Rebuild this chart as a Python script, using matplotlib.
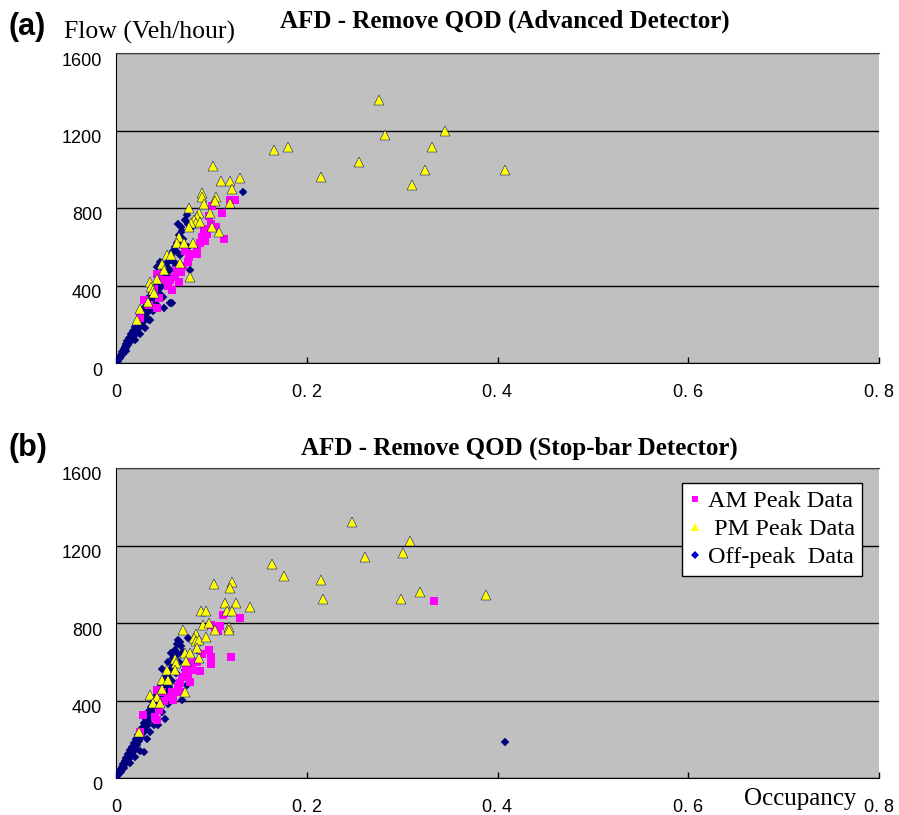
import matplotlib
matplotlib.use("Agg")
import matplotlib.pyplot as plt
from matplotlib.lines import Line2D
from matplotlib.transforms import ScaledTranslation

# ---------------- data ----------------
x_ticks = [0, 0.2, 0.4, 0.6, 0.8]
x_tick_labels = ["0", "0. 2", "0. 4", "0. 6", "0. 8"]
y_ticks = [0, 400, 800, 1200, 1600]
y_tick_labels = ["0", "400", "800", "1200", "1600"]
series_names = ["AM Peak Data", " PM Peak Data", "Off-peak  Data"]
panel_titles = ["AFD - Remove QOD (Advanced Detector)", "AFD - Remove QOD (Stop-bar Detector)"]

# Panel (a) - Advanced detector
a_am_x = [0.1248, 0.120, 0.101, 0.111, 0.098, 0.100, 0.092, 0.095, 0.090, 0.093, 0.113, 0.085, 0.080, 0.077,
          0.085, 0.076, 0.064, 0.062, 0.057, 0.066, 0.059, 0.045, 0.050, 0.043, 0.029, 0.045, 0.043, 0.025,
          0.070, 0.072, 0.088, 0.105, 0.068, 0.055, 0.040, 0.035]
a_am_y = [841, 841, 810, 776, 757, 720, 692, 666, 649, 632, 640, 598, 564, 547,
          564, 521, 478, 444, 427, 418, 376, 461, 427, 461, 325, 333, 282, 232,
          500, 580, 620, 700, 470, 400, 380, 300]
a_pm_x = [0.276, 0.282, 0.345, 0.331, 0.166, 0.180, 0.255, 0.102, 0.324, 0.408, 0.215, 0.310, 0.110, 0.120,
          0.130, 0.122, 0.0905, 0.0905, 0.105, 0.104, 0.120, 0.092, 0.077, 0.099, 0.087, 0.085, 0.082, 0.084,
          0.079, 0.077, 0.088, 0.108, 0.101, 0.066, 0.064, 0.071, 0.081, 0.053, 0.058, 0.067, 0.048, 0.050,
          0.078, 0.043, 0.036, 0.037, 0.039, 0.040, 0.034, 0.025, 0.022]
a_pm_y = [1357, 1177, 1199, 1116, 1101, 1116, 1039, 1017, 996, 996, 958, 917, 941, 941,
          953, 898, 880, 858, 858, 838, 828, 821, 798, 776, 775, 755, 740, 725,
          725, 700, 730, 678, 703, 652, 618, 618, 618, 557, 557, 518, 513, 478,
          444, 436, 420, 393, 376, 359, 316, 277, 222]
a_off_x = [0.002, 0.004, 0.005, 0.006, 0.007, 0.008, 0.009, 0.010, 0.010, 0.011, 0.012, 0.013, 0.014, 0.015,
           0.016, 0.017, 0.018, 0.019, 0.020, 0.020, 0.021, 0.022, 0.023, 0.024, 0.025, 0.025, 0.026, 0.027,
           0.028, 0.029, 0.030, 0.030, 0.031, 0.032, 0.033, 0.034, 0.035, 0.035, 0.036, 0.037, 0.038, 0.039,
           0.040, 0.040, 0.041, 0.042, 0.043, 0.044, 0.045, 0.046, 0.047, 0.048, 0.049, 0.050, 0.051, 0.052,
           0.053, 0.054, 0.055, 0.056, 0.057, 0.058, 0.059, 0.060, 0.061, 0.062, 0.063, 0.064, 0.065, 0.066,
           0.067, 0.068, 0.070, 0.072, 0.074, 0.075, 0.078, 0.080, 0.1335, 0.046, 0.043, 0.0566, 0.050, 0.036,
           0.003, 0.005, 0.007, 0.009, 0.011, 0.013, 0.015, 0.017, 0.019, 0.021, 0.023, 0.025, 0.027, 0.029,
           0.031, 0.033, 0.035, 0.038, 0.041, 0.044, 0.047, 0.052, 0.058, 0.063, 0.069, 0.076]
a_off_y = [10, 25, 40, 55, 45, 70, 85, 60, 100, 80, 115, 95, 130, 110,
           150, 125, 165, 140, 185, 120, 160, 200, 175, 215, 150, 235, 190, 250,
           210, 270, 180, 290, 240, 305, 260, 325, 220, 280, 345, 300, 360, 270,
           380, 320, 340, 400, 300, 420, 360, 440, 390, 460, 340, 480, 420, 500,
           450, 520, 400, 540, 480, 560, 310, 580, 520, 600, 500, 620, 720, 660,
           560, 700, 640, 740, 764, 600, 478, 700, 884, 523, 497, 308, 282, 222,
           20, 35, 60, 75, 95, 105, 130, 145, 155, 180, 195, 205, 230, 245,
           265, 290, 305, 330, 365, 380, 420, 470, 530, 580, 680, 720]

# Panel (b) - Stop-bar detector
b_am_x = [0.333, 0.130, 0.112, 0.109, 0.100, 0.121, 0.0975, 0.0996, 0.0996, 0.088, 0.0776, 0.073, 0.069, 0.0776,
          0.0671, 0.0584, 0.0671, 0.0426, 0.048, 0.060, 0.0287, 0.041, 0.0426, 0.025, 0.085, 0.090, 0.080,
          0.075, 0.065, 0.055, 0.050, 0.045, 0.107, 0.104]
b_am_y = [915, 827, 841, 785, 788, 626, 660, 625, 587, 550, 592, 557, 522, 496,
          488, 445, 445, 453, 445, 403, 325, 316, 299, 237, 600, 640, 560,
          520, 470, 420, 400, 350, 760, 780]
b_pm_x = [0.247, 0.3086, 0.301, 0.2607, 0.1636, 0.1758, 0.2149, 0.103, 0.122, 0.120, 0.217, 0.2985, 0.3187, 0.388,
          0.1146, 0.1258, 0.140, 0.089, 0.094, 0.116, 0.122, 0.0909, 0.098, 0.1038, 0.118, 0.118, 0.0706,
          0.084, 0.082, 0.084, 0.087, 0.094, 0.085, 0.0724, 0.078, 0.087, 0.062, 0.063, 0.073, 0.053, 0.062,
          0.048, 0.055, 0.0724, 0.0356, 0.0426, 0.0486, 0.0385, 0.046, 0.0245]
b_pm_y = [1321, 1221, 1163, 1142, 1104, 1043, 1022, 1000, 1010, 981, 924, 924, 962, 945,
          902, 902, 884, 863, 863, 863, 863, 790, 801, 764, 780, 764, 764,
          743, 721, 705, 712, 730, 669, 643, 643, 618, 612, 595, 603, 557, 557,
          506, 506, 445, 428, 419, 457, 385, 385, 239]
b_off_x = [0.001, 0.003, 0.004, 0.005, 0.006, 0.007, 0.008, 0.009, 0.010, 0.011, 0.012, 0.013, 0.014, 0.015,
           0.015, 0.016, 0.017, 0.018, 0.019, 0.020, 0.020, 0.021, 0.022, 0.023, 0.024, 0.025, 0.025, 0.026,
           0.027, 0.028, 0.029, 0.029, 0.030, 0.031, 0.032, 0.032, 0.033, 0.034, 0.035, 0.036, 0.036, 0.037,
           0.038, 0.039, 0.040, 0.040, 0.041, 0.042, 0.043, 0.044, 0.044, 0.045, 0.046, 0.047, 0.048, 0.048,
           0.049, 0.050, 0.051, 0.052, 0.053, 0.054, 0.055, 0.056, 0.057, 0.058, 0.059, 0.060, 0.061, 0.062,
           0.063, 0.064, 0.065, 0.066, 0.067, 0.069, 0.070, 0.072, 0.0758, 0.074, 0.085, 0.408,
           0.002, 0.004, 0.006, 0.008, 0.010, 0.012, 0.014, 0.016, 0.018, 0.020, 0.022, 0.024, 0.026, 0.028,
           0.030, 0.032, 0.034, 0.037, 0.040, 0.043, 0.046, 0.050, 0.055, 0.060, 0.065, 0.068]
b_off_y = [10, 25, 40, 30, 55, 70, 50, 90, 75, 105, 85, 125, 100, 78,
           145, 120, 160, 135, 180, 110, 150, 200, 170, 220, 190, 240, 140, 210,
           260, 230, 133, 285, 250, 305, 200, 270, 325, 290, 345, 240, 310, 365,
           330, 390, 271, 350, 410, 370, 430, 271, 390, 450, 410, 480, 340, 565,
           430, 510, 305, 450, 540, 380, 600, 470, 560, 643, 500, 620, 430, 660,
           540, 690, 712, 600, 700, 403, 650, 560, 721, 480, 660, 186,
           15, 35, 45, 65, 95, 100, 115, 140, 150, 170, 185, 210, 225, 250,
           270, 290, 315, 340, 380, 400, 440, 470, 520, 580, 640, 680]

panels = [
    (a_am_x, a_am_y, a_pm_x, a_pm_y, a_off_x, a_off_y),
    (b_am_x, b_am_y, b_pm_x, b_pm_y, b_off_x, b_off_y),
]

# ---------------- style ----------------
SERIF = "Liberation Serif"
SANS = "Liberation Sans"
BG = "#C0C0C0"
NAVY = "#000080"
MAGENTA = "#FF00FF"
YELLOW = "#FFFF00"

W, H = 899, 815
fig = plt.figure(figsize=(W / 100, H / 100), dpi=100)
fig.patch.set_facecolor("white")

def fx(px):
    return px / W

def fy(py):
    return 1 - py / H

axes_px = [(116, 53, 879, 363), (116, 468, 879, 778)]
axes = []
for (l, t, r, b) in axes_px:
    ax = fig.add_axes([fx(l), fy(b), fx(r) - fx(l), fy(t) - fy(b)])
    axes.append(ax)

for ax, data in zip(axes, panels):
    am_x, am_y, pm_x, pm_y, off_x, off_y = data
    ax.set_facecolor(BG)
    ax.plot(off_x, off_y, linestyle="none", marker="D", ms=4.1, mfc=NAVY, mec=NAVY, mew=0.3, zorder=3)
    ax.plot(am_x, am_y, linestyle="none", marker="s", ms=5.8, mfc=MAGENTA, mec=MAGENTA, mew=0, zorder=4)
    ax.plot(pm_x, pm_y, linestyle="none", marker="^", ms=6.5, mfc=YELLOW, mec=NAVY, mew=0.35, zorder=5)
    ax.set_xlim(0, 0.8)
    ax.set_ylim(0, 1600)
    ax.set_xticks(x_ticks)
    ax.set_xticklabels(x_tick_labels, fontfamily=SANS, fontsize=13)
    ax.set_yticks(y_ticks)
    ax.set_yticklabels(y_tick_labels, fontfamily=SANS, fontsize=13)
    ax.tick_params(axis="x", direction="in", length=4, width=1, pad=15, color="black")
    ax.tick_params(axis="y", length=0, pad=10)
    ax.yaxis.grid(True, color="black", linewidth=1.0, zorder=1)
    ax.set_axisbelow(True)
    ax.spines["right"].set_visible(False)
    ax.spines["top"].set_color("#404040")
    ax.spines["left"].set_color("black")
    ax.spines["bottom"].set_color("black")
    for lab in ax.get_yticklabels():
        lab.set_transform(lab.get_transform() + ScaledTranslation(0, -0.06, fig.dpi_scale_trans))

# titles and labels
fig.text(fx(505), fy(21), panel_titles[0], fontfamily=SERIF, fontweight="bold", fontsize=18,
         ha="center", va="center")
fig.text(fx(519), fy(448), panel_titles[1], fontfamily=SERIF, fontweight="bold", fontsize=18,
         ha="center", va="center")
fig.text(fx(8), fy(27), "(a)", fontfamily=SANS, fontweight="bold", fontsize=22, ha="left", va="center")
fig.text(fx(8), fy(448), "(b)", fontfamily=SANS, fontweight="bold", fontsize=22, ha="left", va="center")
fig.text(fx(64), fy(32), "Flow (Veh/hour)", fontfamily=SERIF, fontsize=18.5, ha="left", va="center")
fig.text(fx(744), fy(799), "Occupancy", fontfamily=SERIF, fontsize=18, ha="left", va="center")

# legend (panel b)
handles = [
    Line2D([], [], linestyle="none", marker="s", ms=5, mfc=MAGENTA, mec=MAGENTA, mew=0),
    Line2D([], [], linestyle="none", marker="^", ms=6, mfc=YELLOW, mec=YELLOW, mew=0),
    Line2D([], [], linestyle="none", marker="D", ms=4, mfc="#0000CC", mec="#0000CC", mew=0),
]
leg = axes[1].legend(handles, series_names, loc="upper left",
                     bbox_to_anchor=(fx(682), fy(483)), bbox_transform=fig.transFigure,
                     prop={"family": SERIF, "size": 17.5}, frameon=True, fancybox=False,
                     framealpha=1, edgecolor="black", facecolor="white",
                     handlelength=0.45, handletextpad=0.3, borderpad=0.3, labelspacing=0.25,
                     borderaxespad=0)
leg.get_frame().set_linewidth(1.0)

fig.savefig("out.png", dpi=100)
